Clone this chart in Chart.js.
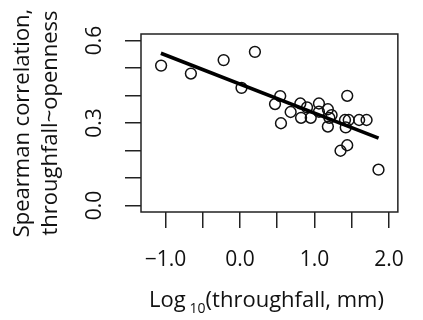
<!DOCTYPE html>
<html>
<head>
<meta charset="utf-8">
<script src="https://cdn.jsdelivr.net/npm/chart.js@4"></script>
<style>
  html, body { margin: 0; padding: 0; background: #fff; }
  #plot { display: block; }
</style>
</head>
<body>
<canvas id="plot" width="423" height="320"></canvas>
<script>
// Points
const logThroughfall = [-1.06, -0.66, -0.22, 0.20, 0.02, 0.54, 0.47, 0.55, 0.68, 0.81,
  0.90, 0.82, 0.95, 1.06, 1.06, 1.18, 1.23, 1.20, 1.18, 1.44,
  1.41, 1.46, 1.42, 1.60, 1.70, 1.35, 1.44, 1.86];
const spearman = [0.509, 0.480, 0.529, 0.559, 0.428, 0.398, 0.369, 0.299, 0.340, 0.371,
  0.357, 0.319, 0.319, 0.371, 0.341, 0.350, 0.329, 0.319, 0.287, 0.399,
  0.311, 0.311, 0.284, 0.311, 0.311, 0.199, 0.219, 0.130];

// Fitted line ends
const fitX = [-1.063, 1.861];
const fitY = [0.554, 0.245];

// Axis ranges and labelled ticks
const xRange = [-1.33, 2.12];
const yRange = [-0.024, 0.624];
const xLabelled = [-1, 0, 1, 2];
const yLabelled = [0, 0.3, 0.6];

const ink = "#111";
const rule = "#222";
const face = "'Open Sans', 'DejaVu Sans', sans-serif";

const fmt = (v) => {
  const s = Math.abs(v).toFixed(1);
  return v < -1e-9 ? "\u2212" + s : s;
};
const near = (v, list) => list.some((t) => Math.abs(t - v) < 1e-6);

// box around the plot + x title with a subscript
const frame = {
  id: "frame",
  afterDraw(chart) {
    const { ctx, chartArea: a } = chart;
    ctx.save();
    ctx.strokeStyle = rule;
    ctx.lineWidth = 1.5;
    ctx.strokeRect(a.left, a.top, a.right - a.left, a.bottom - a.top);

    const big = "22px " + face;
    const small = "14px " + face;
    ctx.fillStyle = ink;
    ctx.textBaseline = "alphabetic";
    ctx.textAlign = "left";
    ctx.font = big;
    const w1 = ctx.measureText("Log").width;
    const w3 = ctx.measureText("(throughfall, mm)").width;
    ctx.font = small;
    const w2 = ctx.measureText("10").width;
    const gap = 4;
    const total = w1 + gap + w2 + w3;
    let x = (a.left + a.right) / 2 - 3 - total / 2;
    const base = 306.5;
    ctx.font = big;
    ctx.fillText("Log", x, base);
    x += w1 + gap;
    ctx.font = small;
    ctx.fillText("10", x, base + 6);
    x += w2;
    ctx.font = big;
    ctx.fillText("(throughfall, mm)", x, base);
    ctx.restore();
  },
};

const points = logThroughfall.map((x, i) => ({ x, y: spearman[i] }));
const fit = fitX.map((x, i) => ({ x, y: fitY[i] }));

new Chart(document.getElementById("plot"), {
  type: "scatter",
  data: {
    datasets: [
      {
        data: points,
        pointRadius: 5.4,
        pointBorderWidth: 1.5,
        pointBorderColor: ink,
        pointBackgroundColor: "rgba(0,0,0,0)",
        order: 2,
      },
      {
        type: "line",
        data: fit,
        borderColor: "#000",
        borderWidth: 3.6,
        pointRadius: 0,
        fill: false,
        order: 1,
      },
    ],
  },
  options: {
    responsive: false,
    animation: false,
    devicePixelRatio: 1,
    layout: { padding: { top: 34, right: 9, left: 0, bottom: 0 } },
    plugins: { legend: { display: false }, tooltip: { enabled: false } },
    scales: {
      x: {
        type: "linear",
        min: xRange[0],
        max: xRange[1],
        afterFit: (s) => { s.height = 108; },
        border: { display: false },
        grid: { drawOnChartArea: false, drawTicks: true, tickLength: 16, color: rule, lineWidth: 1.5 },
        ticks: {
          stepSize: 0.5,
          includeBounds: false,
          autoSkip: false,
          maxRotation: 0,
          minRotation: 0,
          padding: 19,
          color: ink,
          font: { family: face, size: 21 },
          callback: (v) => (near(v, xLabelled) ? fmt(v) : ""),
        },
      },
      y: {
        type: "linear",
        min: yRange[0],
        max: yRange[1],
        afterFit: (s) => { s.width = 141; },
        border: { display: false },
        grid: { drawOnChartArea: false, drawTicks: true, tickLength: 16, color: rule, lineWidth: 1.5 },
        ticks: {
          stepSize: 0.1,
          includeBounds: false,
          autoSkip: false,
          minRotation: 90,
          maxRotation: 90,
          crossAlign: "center",
          padding: 15,
          color: ink,
          font: { family: face, size: 21 },
          callback: (v) => (near(v, yLabelled) ? fmt(v) : ""),
        },
        title: {
          display: true,
          text: ["Spearman correlation,", "throughfall~openness"],
          color: ink,
          font: { family: face, size: 22, lineHeight: 1.25 },
          padding: { top: 9, bottom: 0 },
        },
      },
    },
  },
  plugins: [frame],
});
</script>
</body>
</html>
